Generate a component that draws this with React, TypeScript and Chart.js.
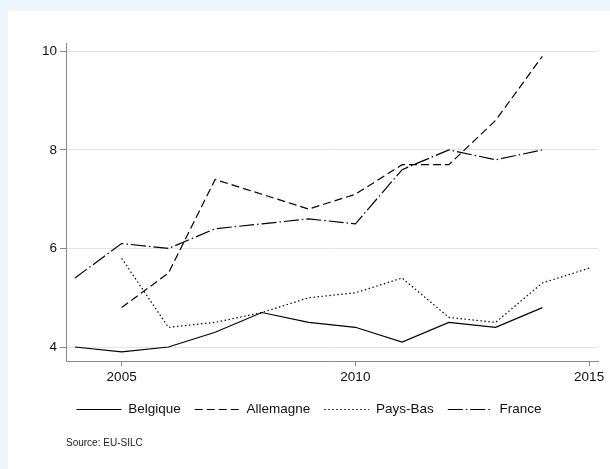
import React, { useEffect, useRef } from "react";
import { Chart, registerables } from "chart.js";

Chart.register(...registerables);

const years = [2004, 2005, 2006, 2007, 2008, 2009, 2010, 2011, 2012, 2013, 2014, 2015];
const belgique = [4.0, 3.9, 4.0, 4.3, 4.7, 4.5, 4.4, 4.1, 4.5, 4.4, 4.8, null];
const allemagne = [null, 4.8, 5.5, 7.4, 7.1, 6.8, 7.1, 7.7, 7.7, 8.6, 9.9, null];
const paysBas = [null, 5.8, 4.4, 4.5, 4.7, 5.0, 5.1, 5.4, 4.6, 4.5, 5.3, 5.6];
const france = [5.4, 6.1, 6.0, 6.4, 6.5, 6.6, 6.5, 7.6, 8.0, 7.8, 8.0, null];
const xTicks = [2005, 2010, 2015];
const yTicks = [4, 6, 8, 10];
const seriesNames = ["Belgique", "Allemagne", "Pays-Bas", "France"];
const sourceText = "Source: EU-SILC";

const FONT = "'Liberation Sans', Arial, Helvetica, sans-serif";
const LEGEND_LINE = 45;

function toPoints(vals: (number | null)[]) {
  const pts: { x: number; y: number }[] = [];
  vals.forEach((v, i) => {
    if (v !== null) pts.push({ x: years[i], y: v });
  });
  return pts;
}

const legendLines = {
  id: "legendLines",
  afterDraw(chart: any) {
    const legend = chart.legend;
    if (!legend || !legend.legendHitBoxes) return;
    const ctx = chart.ctx;
    legend.legendHitBoxes.forEach((hb: any, i: number) => {
      const ds = chart.data.datasets[i];
      const y = Math.round(hb.top + hb.height / 2) + 0.5;
      ctx.save();
      ctx.strokeStyle = ds.borderColor;
      ctx.lineWidth = ds.borderWidth;
      ctx.setLineDash(ds.borderDash || []);
      ctx.beginPath();
      ctx.moveTo(hb.left, y);
      ctx.lineTo(hb.left + LEGEND_LINE, y);
      ctx.stroke();
      ctx.restore();
    });
  },
};

export default function App() {
  const ref = useRef<HTMLCanvasElement | null>(null);
  useEffect(() => {
    if (!ref.current) return;
    const dashes = [[], [8, 4], [1.5, 2.5], [15, 3, 1.5, 3]];
    const all = [belgique, allemagne, paysBas, france];
    const chart = new Chart(ref.current, {
      type: "line",
      data: {
        datasets: all.map((vals, i) => ({
          label: seriesNames[i],
          data: toPoints(vals),
          borderColor: "#000",
          backgroundColor: "rgba(0,0,0,0)",
          borderWidth: 1.2,
          borderDash: dashes[i],
          pointRadius: 0,
          tension: 0,
          fill: false,
        })),
      },
      plugins: [legendLines],
      options: {
        animation: false,
        responsive: false,
        layout: { padding: { left: 12, right: 12, top: 32, bottom: 16 } },
        plugins: {
          tooltip: { enabled: false },
          legend: {
            position: "bottom",
            align: "center",
            labels: {
              boxWidth: LEGEND_LINE,
              boxHeight: 0,
              padding: 14,
              color: "#111",
              font: { family: FONT, size: 13.5 },
              generateLabels: (c: any) =>
                Chart.defaults.plugins.legend.labels
                  .generateLabels(c)
                  .map((it: any) => ({
                    ...it,
                    strokeStyle: "rgba(0,0,0,0)",
                    fillStyle: "rgba(0,0,0,0)",
                    lineWidth: 0,
                  })),
            },
          },
          subtitle: {
            display: true,
            text: sourceText,
            position: "bottom",
            align: "start",
            fullSize: false,
            color: "#222",
            font: { family: FONT, size: 10, weight: "normal" },
            padding: { top: 11, bottom: 4 },
          },
        },
        scales: {
          x: {
            type: "linear",
            min: 2003.81,
            max: 2015.19,
            afterBuildTicks: (scale: any) => {
              scale.ticks = xTicks.map((v) => ({ value: v }));
            },
            grid: {
              drawOnChartArea: false,
              tickLength: 5,
              tickColor: "#8a8a8a",
              color: "#8a8a8a",
            },
            border: { color: "#8a8a8a", width: 1 },
            ticks: {
              padding: 3,
              color: "#111",
              font: { family: FONT, size: 13.5 },
              maxRotation: 0,
              callback: (v: any) => String(v),
            },
          },
          y: {
            type: "linear",
            min: 3.71,
            max: 10.17,
            afterBuildTicks: (scale: any) => {
              scale.ticks = yTicks.map((v) => ({ value: v }));
            },
            afterFit: (scale: any) => {
              scale.width = 46;
            },
            grid: {
              color: "#e4e4e4",
              tickColor: "#8a8a8a",
              tickLength: 6,
            },
            border: { color: "#8a8a8a", width: 1 },
            ticks: {
              padding: 3,
              color: "#111",
              font: { family: FONT, size: 13.5 },
              callback: (v: any) => String(v),
            },
          },
        },
      },
    } as any);
    return () => chart.destroy();
  }, []);
  return (
    <div style={{ position: "fixed", inset: 0, background: "#eef6fd" }}>
      <div
        style={{
          position: "absolute",
          left: 8,
          top: 11,
          right: 0,
          bottom: 0,
          background: "#fff",
        }}
      >
        <canvas ref={ref} width={602} height={458} style={{ display: "block" }} />
      </div>
    </div>
  );
}
